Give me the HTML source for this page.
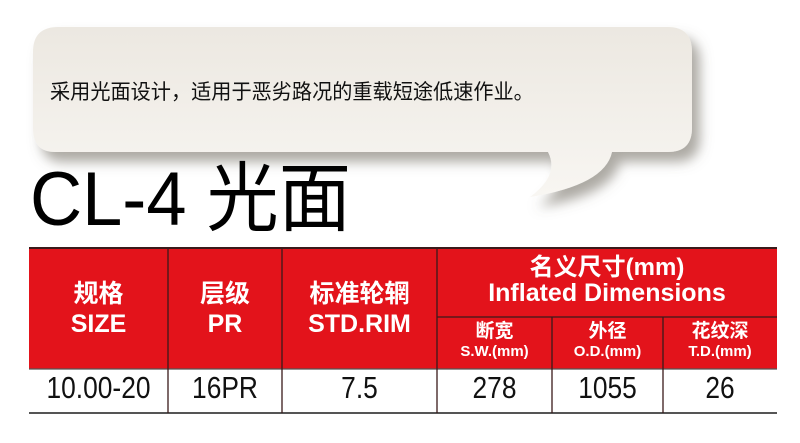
<!DOCTYPE html>
<html><head><meta charset="utf-8"><style>
html,body{margin:0;padding:0;background:#fff;width:800px;height:443px;overflow:hidden;position:relative;font-family:"Liberation Sans","Noto Sans CJK SC",sans-serif}
.t{position:absolute;color:#fff;font-weight:bold;text-align:center;line-height:1}
.d{position:absolute;top:370px;font-size:31px;color:#111;text-align:center;transform:scaleX(0.85)}
</style></head><body>
<svg width="800" height="443" style="position:absolute;left:0;top:0">
<defs>
<filter id="sh" x="-10%" y="-20%" width="130%" height="160%"><feDropShadow dx="8" dy="10" stdDeviation="6" flood-color="#6b6558" flood-opacity="0.55"/></filter>
<linearGradient id="bg" x1="0" y1="0" x2="0" y2="1"><stop offset="0" stop-color="#ece8e1"/><stop offset="1" stop-color="#f8f6f2"/></linearGradient>
</defs>
<path filter="url(#sh)" fill="url(#bg)" d="M58 27 H668 Q692 27 692 52 V128 Q692 152 668 152 H612 Q605 185 530 197 Q560 175 548 152 H55 Q33 152 33 128 V52 Q33 27 58 27 Z"/>
<rect x="29" y="248" width="748" height="121" fill="#e3131b"/>
<g stroke="#3a1a1a" stroke-width="1.3">
<line x1="29" y1="248" x2="777" y2="248" stroke-width="2"/>
<line x1="437" y1="317" x2="777" y2="317"/>
<line x1="29" y1="369" x2="777" y2="369" stroke="#555"/>
<line x1="29" y1="413" x2="777" y2="413" stroke="#555" stroke-width="2"/>
<line x1="168" y1="248" x2="168" y2="413"/>
<line x1="282" y1="248" x2="282" y2="413"/>
<line x1="437" y1="248" x2="437" y2="413"/>
<line x1="552" y1="317" x2="552" y2="413"/>
<line x1="663" y1="317" x2="663" y2="413"/>
</g>
</svg>
<div style="position:absolute;left:50px;top:76px;font-size:21px;color:#111;font-family:'Noto Sans CJK SC',sans-serif;transform:scaleX(0.96);transform-origin:left;white-space:nowrap">采用光面设计，适用于恶劣路况的重载短途低速作业。</div>
<div style="position:absolute;left:30px;top:160px;font-size:76px;line-height:80px;color:#000;transform:scaleX(0.95);transform-origin:left;white-space:nowrap;font-family:'Liberation Sans','Noto Sans CJK SC',sans-serif">CL-4 光面</div>
<div class="t" style="left:29px;width:139px;top:282px;font-size:25px">规格<br><span style="display:inline-block;margin-top:5px">SIZE</span></div>
<div class="t" style="left:168px;width:114px;top:282px;font-size:25px">层级<br><span style="display:inline-block;margin-top:5px">PR</span></div>
<div class="t" style="left:282px;width:155px;top:282px;font-size:25px">标准轮辋<br><span style="display:inline-block;margin-top:5px">STD.RIM</span></div>
<div class="t" style="left:437px;width:340px;top:256px;font-size:24px">名义尺寸(mm)<br><span style="display:inline-block;margin-top:1px;font-size:25px">Inflated Dimensions</span></div>
<div class="t" style="left:437px;width:115px;top:322px;font-size:19px">断宽<br><span style="font-size:15px">S.W.(mm)</span></div>
<div class="t" style="left:552px;width:111px;top:322px;font-size:19px">外径<br><span style="font-size:15px">O.D.(mm)</span></div>
<div class="t" style="left:663px;width:114px;top:322px;font-size:19px">花纹深<br><span style="font-size:15px">T.D.(mm)</span></div>
<div class="d" style="left:29px;width:139px">10.00-20</div>
<div class="d" style="left:168px;width:114px">16PR</div>
<div class="d" style="left:282px;width:155px">7.5</div>
<div class="d" style="left:437px;width:115px">278</div>
<div class="d" style="left:552px;width:111px">1055</div>
<div class="d" style="left:663px;width:114px">26</div>
</body></html>
